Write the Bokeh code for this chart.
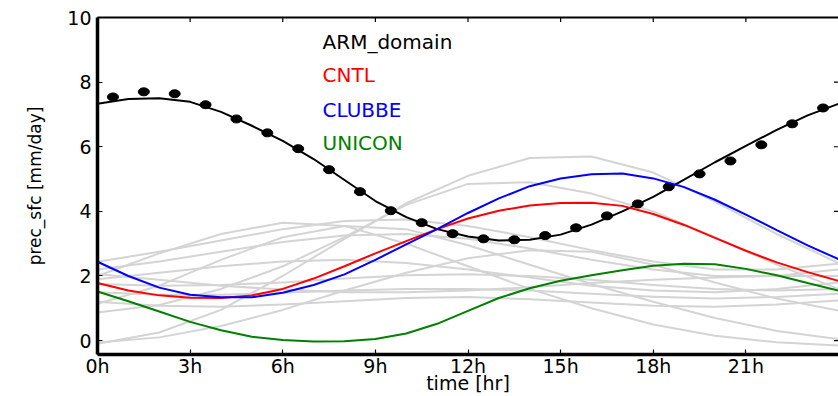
from bokeh.plotting import figure
from bokeh.models import LinearAxis, FixedTicker, Range1d, Label
from bokeh.embed import file_html
from bokeh.resources import INLINE

# --- data -------------------------------------------------------------
hours = list(range(25))                     # 0h .. 24h, hourly
obs_hours = [h + 0.5 for h in range(24)]    # observation times (half hours)
member_hours = list(range(0, 25, 2))        # ensemble output every 2 h

arm_fit = [7.33, 7.48, 7.50, 7.39, 7.08, 6.65, 6.18, 5.62, 4.97, 4.32, 3.82,
           3.45, 3.22, 3.10, 3.12, 3.28, 3.59, 4.00, 4.45, 4.98, 5.52, 6.03,
           6.52, 6.97, 7.33]
arm_obs = [7.54, 7.70, 7.64, 7.30, 6.86, 6.43, 5.94, 5.29, 4.61, 4.02, 3.65,
           3.31, 3.15, 3.12, 3.25, 3.49, 3.86, 4.23, 4.76, 5.16, 5.56, 6.06,
           6.71, 7.20]
cntl = [1.78, 1.55, 1.40, 1.33, 1.32, 1.40, 1.60, 1.92, 2.30, 2.70, 3.08,
        3.45, 3.78, 4.02, 4.18, 4.26, 4.27, 4.17, 3.92, 3.58, 3.18, 2.78,
        2.42, 2.12, 1.85]
clubbe = [2.44, 2.00, 1.64, 1.42, 1.34, 1.34, 1.48, 1.72, 2.05, 2.50, 2.98,
          3.45, 3.95, 4.40, 4.78, 5.02, 5.15, 5.17, 5.02, 4.75, 4.36, 3.90,
          3.42, 2.95, 2.52]
unicon = [1.52, 1.22, 0.90, 0.58, 0.32, 0.12, 0.02, -0.03, -0.02, 0.05, 0.22,
          0.52, 0.92, 1.32, 1.62, 1.85, 2.02, 2.18, 2.32, 2.38, 2.36, 2.22,
          2.02, 1.78, 1.55]

# ensemble members (2-hourly)
member_01 = [-0.10, 0.25, 0.95, 2.00, 3.15, 4.25, 5.10, 5.65, 5.70, 5.20, 4.30, 3.30, 2.40]
member_02 = [0.87, 1.10, 1.60, 2.30, 3.20, 4.20, 4.85, 4.90, 4.55, 4.00, 3.20, 2.35, 1.60]
member_03 = [2.00, 2.70, 3.30, 3.65, 3.55, 3.00, 2.30, 1.60, 1.00, 0.50, 0.15, -0.05, -0.15]
member_04 = [1.14, 1.70, 2.50, 3.20, 3.55, 3.45, 2.95, 2.35, 1.75, 1.20, 0.70, 0.30, 0.05]
member_05 = [2.44, 2.75, 3.10, 3.45, 3.70, 3.75, 3.55, 3.20, 2.80, 2.45, 2.20, 2.20, 2.38]
member_06 = [2.20, 2.45, 2.75, 3.05, 3.25, 3.30, 3.15, 2.85, 2.50, 2.20, 2.00, 2.00, 2.20]
member_07 = [1.90, 2.10, 2.30, 2.45, 2.50, 2.40, 2.20, 1.95, 1.70, 1.55, 1.50, 1.60, 1.80]
member_08 = [1.75, 1.70, 1.72, 1.80, 1.92, 2.02, 2.05, 2.00, 1.88, 1.72, 1.60, 1.55, 1.60]
member_09 = [1.50, 1.42, 1.42, 1.48, 1.55, 1.60, 1.60, 1.55, 1.45, 1.36, 1.30, 1.35, 1.45]
member_10 = [2.05, 1.88, 1.70, 1.58, 1.50, 1.50, 1.55, 1.65, 1.78, 1.88, 1.95, 2.00, 2.00]
member_11 = [-0.06, 0.10, 0.45, 0.95, 1.55, 2.10, 2.55, 2.80, 2.75, 2.35, 1.80, 1.30, 0.93]
member_12 = [1.20, 1.08, 1.05, 1.12, 1.22, 1.32, 1.35, 1.28, 1.18, 1.08, 1.05, 1.12, 1.24]
members = [member_01, member_02, member_03, member_04, member_05, member_06,
           member_07, member_08, member_09, member_10, member_11, member_12]

x_ticks = [0, 3, 6, 9, 12, 15, 18, 21]
x_tick_labels = ["0h", "3h", "6h", "9h", "12h", "15h", "18h", "21h"]
y_ticks = [0, 2, 4, 6, 8, 10]

series_names = ["ARM_domain", "CNTL", "CLUBBE", "UNICON"]
series_colors = ["black", "#ff0000", "#0000ff", "#008000"]

FONT = "DejaVu Sans"
X_MIN, X_MAX = 0, 24
Y_MIN, Y_MAX = -0.43, 10

# --- figure -----------------------------------------------------------
p = figure(width=838, height=396, x_range=Range1d(X_MIN, X_MAX),
           y_range=Range1d(Y_MIN, Y_MAX), output_backend="svg",
           toolbar_location=None, min_border_left=97, min_border_right=0,
           min_border_top=17, min_border_bottom=42)
p.grid.visible = False
p.outline_line_color = None
p.background_fill_color = "white"
p.border_fill_color = "white"

xt = FixedTicker(ticks=x_ticks)
yt = FixedTicker(ticks=y_ticks)

xa = p.xaxis[0]
xa.ticker = xt
xa.major_label_overrides = dict(zip(x_ticks, x_tick_labels))
xa.axis_label = "time [hr]"

ya = p.yaxis[0]
ya.ticker = yt
ya.axis_label = "prec_sfc [mm/day]"

for ax in (xa, ya):
    ax.axis_line_width = 3.5
    ax.major_tick_in = 5
    ax.major_tick_out = 0
    ax.major_tick_line_width = 1.2
    ax.minor_tick_line_color = None
    ax.major_label_text_font = FONT
    ax.major_label_text_font_size = "19px"
    ax.major_label_text_color = "black"
    ax.axis_label_text_font = FONT
    ax.axis_label_text_font_style = "normal"
    ax.axis_label_text_color = "black"

xa.axis_label_text_font_size = "19px"
ya.axis_label_text_font_size = "17px"
xa.major_label_standoff = 0
xa.axis_label_standoff = -8
ya.major_label_standoff = 6
ya.axis_label_standoff = 19

# top spine (ticks are drawn separately, pointing inward)
top = LinearAxis(ticker=FixedTicker(ticks=[]), axis_line_width=2,
                 major_tick_line_color=None, minor_tick_line_color=None,
                 major_label_standoff=0)
p.add_layout(top, "above")

# inward ticks along the top and right edges
p.segment(x0=x_ticks, y0=[Y_MAX] * len(x_ticks), x1=x_ticks,
          y1=[Y_MAX - 0.14] * len(x_ticks), line_color="black", line_width=1.2)
p.segment(x0=[X_MAX] * len(y_ticks), y0=y_ticks,
          x1=[X_MAX - 0.15] * len(y_ticks), y1=y_ticks,
          line_color="black", line_width=1.2)

# ensemble members in the background
for m in members:
    p.line(member_hours, m, line_color="#d4d4d4", line_width=2,
           line_join="round")

# observed diurnal cycle
p.line(hours, arm_fit, line_color="black", line_width=2)
p.ellipse(x=obs_hours, y=arm_obs, width=11, height=8,
          width_units="screen", height_units="screen",
          fill_color="black", line_color="black")

# model runs
p.line(hours, cntl, line_color=series_colors[1], line_width=2)
p.line(hours, clubbe, line_color=series_colors[2], line_width=2)
p.line(hours, unicon, line_color=series_colors[3], line_width=2)

# coloured name list
label_y = [9.24, 8.22, 7.14, 6.12]
for name, color, yy in zip(series_names, series_colors, label_y):
    p.add_layout(Label(x=7.29, y=yy, text=name, text_color=color,
                       text_font=FONT, text_font_size="20px",
                       text_baseline="middle", text_align="left"))

open("out.html", "w").write(file_html(p, INLINE))
